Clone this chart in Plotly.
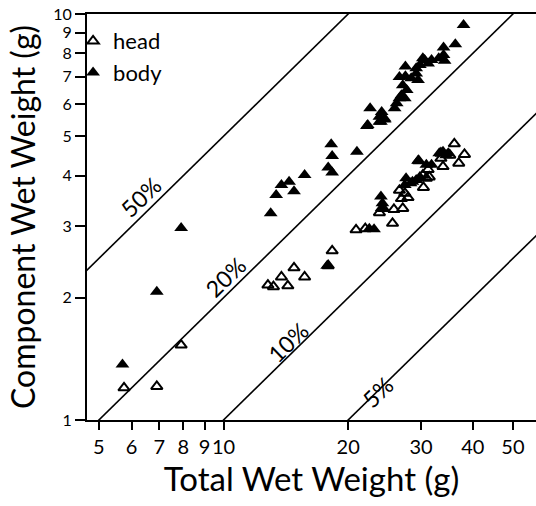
import plotly.graph_objects as go
import math

head_x = [5.75, 6.9, 7.9, 12.8, 13.2, 14.3, 13.8, 15.7, 14.8, 17.9, 18.3, 20.9, 22.0,
          23.8, 24.3, 25.8, 27.1, 25.6, 26.6, 26.9, 27.9, 27.4, 30.3, 30.9, 30.4, 29.6,
          33.9, 33.5, 36.1, 38.2, 37.0, 35.2, 33.5, 31.4, 31.2]
head_y = [1.20, 1.21, 1.53, 2.15, 2.13, 2.14, 2.25, 2.25, 2.37, 2.40, 2.61, 2.94, 2.96,
          3.24, 3.32, 3.30, 3.32, 3.05, 3.68, 3.51, 3.53, 3.62, 4.01, 3.94, 3.74, 4.35,
          4.21, 4.41, 4.79, 4.51, 4.29, 4.49, 4.54, 3.97, 4.14]

body_x = [5.7, 6.9, 7.9, 13.0, 13.4, 13.8, 14.4, 14.8, 15.7, 17.9, 18.3, 18.2, 18.3, 21.0,
          17.8, 22.5, 23.1, 24.0, 24.2, 24.1,
          27.6, 27.4, 28.6, 29.2, 29.8, 29.5, 30.9, 31.8, 33.2, 34.5, 28.3, 33.9, 34.9,
          22.2, 22.3, 23.8, 24.5, 24.0, 24.5, 23.8, 24.1, 22.6, 25.9, 26.2, 26.6, 27.4,
          26.9, 27.7, 27.1, 29.5, 28.4, 27.5, 26.6, 29.2, 27.5, 29.2, 29.8, 31.2, 30.6,
          31.8, 30.3, 33.1, 34.2, 34.0, 34.0, 36.3, 38.0]
body_y = [1.37, 2.07, 2.97, 3.23, 3.58, 3.79, 3.86, 3.66, 4.01, 4.19, 4.07, 4.78, 4.47, 4.58,
          2.40, 2.96, 2.95, 3.55, 3.42, 3.33,
          3.94, 3.79, 3.86, 3.90, 3.97, 4.35, 4.25, 4.25, 4.54, 4.49, 3.83, 4.58, 4.54,
          5.30, 5.33, 5.43, 5.50, 5.43, 5.53, 5.58, 5.74, 5.86, 5.86, 6.03, 6.20, 6.20,
          6.31, 6.50, 6.68, 6.88, 6.95, 7.03, 7.00, 7.14, 7.42, 7.35, 7.49, 7.55, 7.70,
          7.70, 7.78, 7.78, 7.67, 7.92, 8.27, 8.42, 9.39]

percents = [50, 20, 10, 5]
label_x = [6.3, 10.1, 14.3, 23.6]
label_y = [3.55, 2.25, 1.56, 1.17]
x_ticks = [5, 6, 7, 8, 9, 10, 20, 30, 40, 50]
y_ticks = [1, 2, 3, 4, 5, 6, 7, 8, 9, 10]

FONT = "Lato"
fig = go.Figure()

line_x = [4.0, 70.0]
for p in percents:
    fig.add_trace(go.Scatter(x=line_x, y=[p / 100 * v for v in line_x], mode="lines",
                             line=dict(color="black", width=1.6), showlegend=False,
                             hoverinfo="skip"))

fig.add_trace(go.Scatter(x=head_x, y=head_y, mode="markers", name="head",
                         marker=dict(symbol="triangle-up-open", size=10, color="black",
                                     line=dict(width=2, color="black"))))
fig.add_trace(go.Scatter(x=body_x, y=body_y, mode="markers", name="body",
                         marker=dict(symbol="triangle-up", size=12, color="black",
                                     line=dict(width=0))))

for p, lx, ly in zip(percents, label_x, label_y):
    fig.add_annotation(x=math.log10(lx), y=math.log10(ly), text=f"{p}%", showarrow=False,
                       textangle=-44, font=dict(family=FONT, size=23, color="black"))

x0 = math.log10(4.68)
fig.update_layout(
    width=536, height=506,
    margin=dict(l=87, r=0, t=14, b=86),
    paper_bgcolor="white", plot_bgcolor="white",
    font=dict(family=FONT, color="black"),
    legend=dict(x=-0.031, y=0.985, xanchor="left", yanchor="top",
                font=dict(family=FONT, size=22, color="black"),
                bgcolor="rgba(0,0,0,0)", itemwidth=30, tracegroupgap=0),
    showlegend=True,
)
fig.update_xaxes(type="log", range=[x0, x0 + 449 / 414], tickvals=x_ticks,
                 ticktext=[str(t) for t in x_ticks], tickangle=0, ticks="outside", ticklen=8,
                 tickwidth=2, tickcolor="black", showline=True, linewidth=2,
                 linecolor="black", mirror=True, showgrid=False, zeroline=False,
                 tickfont=dict(family=FONT, size=20, color="black"),
                 title=dict(text="Total Wet Weight (g)", standoff=6,
                            font=dict(family=FONT, size=33, color="black")))
fig.update_yaxes(type="log", range=[0, 1], tickvals=y_ticks,
                 ticktext=[str(t) for t in y_ticks], ticks="outside", ticklen=10,
                 tickwidth=2, tickcolor="black", showline=True, linewidth=2,
                 linecolor="black", showgrid=False, zeroline=False,
                 tickfont=dict(family=FONT, size=16, color="black"),
                 title=dict(text="Component Wet Weight (g)", standoff=8,
                            font=dict(family=FONT, size=32, color="black")))

fig.write_html("out.html")
